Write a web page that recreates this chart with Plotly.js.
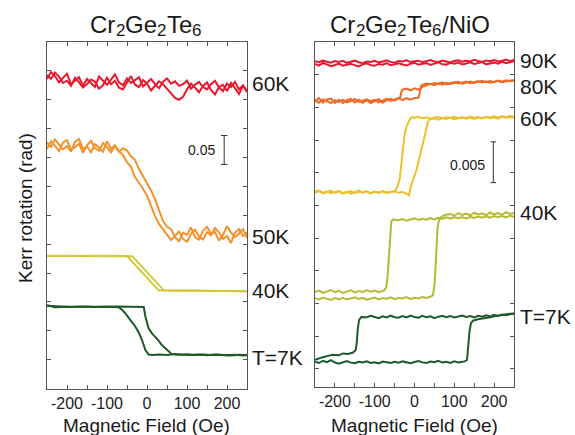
<!DOCTYPE html>
<html>
<head>
<meta charset="utf-8">
<script src="https://cdn.plot.ly/plotly-3.0.1.min.js"></script>
<style>html,body{margin:0;padding:0;background:#fff}#chart{width:575px;height:435px}</style>
</head>
<body>
<div id="chart"></div>
<script>
// ---------- shared field grid (Oe) ----------
const fieldGrid = [-250,-240,-230,-220,-210,-200,-190,-180,-170,-160,-150,-140,-130,-120,-110,-100,-90,-80,-70,-60,-50,-40,-30,-20,-10,0,10,20,30,40,50,60,70,80,90,100,110,120,130,140,150,160,170,180,190,200,210,220,230,240,250];
const fieldTickVals = [-200,-100,0,100,200];
const fieldTickText = ['-200','-100','0','100','200'];
const fieldMinorVals = [-250,-150,-50,50,150,250];

// ---------- Cr2Ge2Te6 (left), Kerr rotation in rad ----------
const l60Up = [0.543,0.536,0.547,0.540,0.529,0.533,0.524,0.538,0.530,0.521,0.527,0.535,0.531,0.519,0.525,0.538,0.527,0.533,0.521,0.518,0.530,0.541,0.526,0.522,0.534,0.528,0.516,0.524,0.532,0.527,0.519,0.512,0.503,0.500,0.505,0.518,0.528,0.521,0.513,0.524,0.530,0.517,0.509,0.522,0.526,0.515,0.529,0.520,0.510,0.524,0.516];
const l60Dn = [0.536,0.548,0.541,0.530,0.538,0.545,0.527,0.533,0.539,0.524,0.536,0.529,0.522,0.540,0.533,0.526,0.535,0.544,0.530,0.525,0.537,0.529,0.534,0.539,0.523,0.530,0.536,0.527,0.520,0.531,0.537,0.528,0.532,0.524,0.527,0.533,0.519,0.526,0.531,0.522,0.518,0.527,0.533,0.521,0.515,0.528,0.522,0.531,0.518,0.525,0.513];

const l50Up = [0.426,0.418,0.431,0.422,0.414,0.420,0.410,0.427,0.432,0.415,0.419,0.409,0.423,0.417,0.410,0.428,0.415,0.421,0.410,0.416,0.412,0.402,0.396,0.380,0.368,0.356,0.343,0.328,0.307,0.290,0.280,0.276,0.262,0.255,0.270,0.266,0.279,0.262,0.258,0.273,0.280,0.268,0.271,0.256,0.266,0.281,0.270,0.262,0.268,0.276,0.261];
const l50Dn = [0.415,0.428,0.420,0.411,0.426,0.430,0.414,0.418,0.424,0.408,0.421,0.429,0.416,0.412,0.425,0.418,0.409,0.420,0.411,0.404,0.392,0.384,0.366,0.357,0.346,0.334,0.316,0.299,0.285,0.276,0.268,0.257,0.264,0.272,0.259,0.254,0.268,0.275,0.263,0.258,0.271,0.265,0.278,0.270,0.259,0.264,0.252,0.270,0.276,0.264,0.270];

const l40UpX = [-250,-200,-150,-100,-60,-37,42,80,120,160,200,250];
const l40UpY = [0.2296,0.2300,0.2292,0.2298,0.2294,0.2292,0.1700,0.1696,0.1700,0.1694,0.1692,0.1686];
const l40DnX = [-250,-200,-150,-100,-50,29,60,100,150,200,250];
const l40DnY = [0.2300,0.2294,0.2298,0.2292,0.2294,0.1700,0.1692,0.1698,0.1690,0.1694,0.1686];

const l7UpX = [-250,-230,-200,-170,-140,-110,-80,-50,-20,-8,-4,4,12,21,30,37,46,54,62,80,100,120,140,160,180,200,220,240,250];
const l7UpY = [0.1440,0.1408,0.1417,0.1412,0.1420,0.1414,0.1419,0.1413,0.1418,0.1410,0.1243,0.1042,0.0960,0.0897,0.0820,0.0753,0.0690,0.0637,0.0595,0.0585,0.0592,0.0580,0.0588,0.0578,0.0586,0.0574,0.0583,0.0572,0.0580];
const l7DnX = [-250,-220,-190,-160,-130,-100,-71,-62,-54,-42,-29,-20,-12.5,-4,4,15,30,50,70,90,110,130,150,170,190,210,230,250];
const l7DnY = [0.1432,0.1418,0.1413,0.1420,0.1411,0.1416,0.1408,0.1360,0.1300,0.1190,0.1070,0.0960,0.0840,0.0667,0.0590,0.0582,0.0590,0.0580,0.0598,0.0584,0.0578,0.0590,0.0576,0.0587,0.0580,0.0571,0.0584,0.0575];

// ---------- Cr2Ge2Te6/NiO (right), Kerr rotation in rad ----------
const r90Up = [0.03955,0.03935,0.03968,0.03950,0.03928,0.03942,0.03960,0.03932,0.03945,0.03958,0.03938,0.03925,0.03950,0.03962,0.03940,0.03932,0.03955,0.03945,0.03965,0.03938,0.03950,0.03962,0.03948,0.03935,0.03958,0.03970,0.03945,0.03955,0.03965,0.03942,0.03960,0.03975,0.03952,0.03945,0.03968,0.03958,0.03972,0.03948,0.03960,0.03975,0.03955,0.03962,0.03978,0.03950,0.03965,0.03972,0.03958,0.03980,0.03965,0.03975,0.03988];
const r90Dn = [0.03988,0.03975,0.03995,0.03982,0.03970,0.03990,0.03978,0.03992,0.03968,0.03982,0.03995,0.03975,0.03965,0.03985,0.03978,0.03992,0.03972,0.03985,0.03998,0.03980,0.03970,0.03990,0.03985,0.04000,0.03978,0.03988,0.03995,0.03975,0.03990,0.04002,0.03985,0.03978,0.03995,0.03988,0.03972,0.03992,0.04000,0.03982,0.03995,0.03985,0.04005,0.03990,0.03978,0.03998,0.03988,0.04002,0.03985,0.03995,0.04008,0.03990,0.04005];

const r80UpX = [-250,-240,-230,-220,-210,-200,-190,-180,-170,-160,-150,-140,-130,-120,-110,-100,-90,-80,-70,-60,-50,-40,-30,-20,-10,0,10,13,17,22,30,40,50,60,70,80,90,100,110,120,130,140,150,160,170,180,190,200,210,220,230,240,250];
const r80UpY = [0.03500,0.03535,0.03480,0.03520,0.03530,0.03478,0.03515,0.03475,0.03510,0.03528,0.03482,0.03515,0.03478,0.03510,0.03475,0.03505,0.03525,0.03480,0.03510,0.03528,0.03505,0.03532,0.03510,0.03535,0.03518,0.03538,0.03540,0.03600,0.03690,0.03705,0.03715,0.03705,0.03722,0.03710,0.03728,0.03705,0.03720,0.03732,0.03715,0.03725,0.03738,0.03720,0.03730,0.03745,0.03728,0.03742,0.03725,0.03735,0.03748,0.03730,0.03742,0.03752,0.03745];
const r80DnX = [-250,-240,-230,-220,-210,-200,-190,-180,-170,-160,-150,-140,-130,-120,-110,-100,-90,-80,-70,-60,-50,-40,-36,-33,-30,-20,-10,0,10,20,30,40,50,60,70,80,90,100,110,120,130,140,150,160,170,180,190,200,210,220,230,240,250];
const r80DnY = [0.03510,0.03480,0.03520,0.03495,0.03475,0.03510,0.03490,0.03518,0.03485,0.03500,0.03525,0.03490,0.03505,0.03522,0.03498,0.03515,0.03485,0.03510,0.03528,0.03502,0.03520,0.03532,0.03545,0.03615,0.03640,0.03652,0.03632,0.03655,0.03640,0.03675,0.03698,0.03712,0.03695,0.03718,0.03702,0.03725,0.03710,0.03720,0.03735,0.03712,0.03728,0.03740,0.03722,0.03735,0.03748,0.03730,0.03745,0.03732,0.03750,0.03738,0.03755,0.03742,0.03758];

const r60UpX = [-250,-240,-230,-220,-210,-200,-190,-180,-170,-160,-150,-140,-130,-120,-110,-100,-90,-80,-70,-60,-50,-40,-30,-20,-14,-10,-4,5,13,21,30,34,38,50,60,70,80,90,100,110,120,130,140,150,160,170,180,190,200,210,220,230,240,250];
const r60UpY = [0.02390,0.02405,0.02375,0.02395,0.02370,0.02385,0.02400,0.02372,0.02390,0.02365,0.02388,0.02402,0.02378,0.02395,0.02370,0.02392,0.02380,0.02398,0.02372,0.02388,0.02395,0.02378,0.02385,0.02365,0.02345,0.02440,0.02533,0.02655,0.02818,0.02982,0.03145,0.03247,0.03276,0.03285,0.03272,0.03292,0.03280,0.03298,0.03278,0.03290,0.03302,0.03284,0.03295,0.03280,0.03298,0.03288,0.03305,0.03290,0.03300,0.03285,0.03310,0.03295,0.03305,0.03298];
const r60DnX = [-250,-240,-230,-220,-210,-200,-190,-180,-170,-160,-150,-140,-130,-120,-110,-100,-90,-80,-70,-60,-55,-47,-42,-37,-33,-29,-25,-20,-15,-10,-4,0,10,20,30,40,50,60,70,80,90,100,110,120,130,140,150,160,170,180,190,200,210,220,230,240,250];
const r60DnY = [0.02378,0.02395,0.02368,0.02388,0.02402,0.02375,0.02392,0.02365,0.02385,0.02398,0.02372,0.02390,0.02380,0.02396,0.02368,0.02388,0.02375,0.02395,0.02382,0.02392,0.02390,0.02410,0.02460,0.02550,0.02740,0.02950,0.03090,0.03190,0.03250,0.03290,0.03305,0.03295,0.03308,0.03290,0.03300,0.03285,0.03298,0.03305,0.03288,0.03300,0.03292,0.03306,0.03290,0.03302,0.03294,0.03310,0.03296,0.03304,0.03290,0.03308,0.03298,0.03312,0.03300,0.03315,0.03302,0.03318,0.03305];

const r40UpX = [-250,-240,-230,-220,-210,-200,-190,-180,-170,-160,-150,-140,-130,-120,-110,-100,-90,-80,-70,-60,-50,-40,-30,-20,-10,0,10,20,30,40,42.3,46.5,50.7,53.3,55.8,58.3,61.7,67.5,76,90,100,110,120,130,140,150,160,170,180,190,200,210,220,230,240,250];
const r40UpY = [0.01085,0.01070,0.01092,0.01078,0.01062,0.01085,0.01072,0.01090,0.01068,0.01082,0.01095,0.01075,0.01088,0.01065,0.01080,0.01092,0.01070,0.01085,0.01078,0.01095,0.01072,0.01088,0.01080,0.01098,0.01075,0.01090,0.01082,0.01100,0.01088,0.01105,0.01108,0.01125,0.01266,0.01511,0.01756,0.01960,0.02042,0.02083,0.02103,0.02115,0.02095,0.02128,0.02105,0.02120,0.02098,0.02132,0.02110,0.02125,0.02100,0.02135,0.02112,0.02128,0.02105,0.02138,0.02118,0.02130];
const r40DnX = [-250,-240,-230,-220,-210,-200,-190,-180,-170,-160,-150,-140,-130,-120,-110,-100,-90,-80,-76,-71,-67.6,-64.2,-60.9,-58.3,-54,-50,-40,-30,-20,-10,0,10,20,30,40,50,60,70,80,90,100,110,120,130,140,150,160,170,180,190,200,210,220,230,240,250];
const r40DnY = [0.01160,0.01178,0.01150,0.01172,0.01185,0.01158,0.01175,0.01148,0.01168,0.01182,0.01155,0.01172,0.01160,0.01185,0.01165,0.01178,0.01158,0.01175,0.01180,0.01218,0.01349,0.01593,0.01840,0.02023,0.02051,0.02045,0.02040,0.02055,0.02035,0.02050,0.02062,0.02042,0.02058,0.02045,0.02065,0.02050,0.02070,0.02055,0.02075,0.02060,0.02080,0.02065,0.02078,0.02060,0.02082,0.02068,0.02085,0.02070,0.02088,0.02072,0.02090,0.02078,0.02092,0.02075,0.02095,0.02082];

const r7UpX = [-250,-240,-230,-220,-210,-200,-190,-180,-170,-160,-150,-140,-130,-120,-110,-100,-90,-80,-70,-60,-50,-40,-30,-20,-10,0,10,20,30,40,50,60,70,80,90,100,110,120,126,131.9,135.2,138.6,141.9,146.9,159.5,170,180,190,200,210,220,230,240,250];
const r7UpY = [0.00305,0.00290,0.00318,0.00300,0.00325,0.00296,0.00282,0.00300,0.00315,0.00295,0.00288,0.00305,0.00296,0.00312,0.00292,0.00300,0.00285,0.00308,0.00298,0.00290,0.00306,0.00295,0.00310,0.00300,0.00288,0.00302,0.00315,0.00298,0.00292,0.00308,0.00300,0.00318,0.00296,0.00305,0.00290,0.00310,0.00298,0.00305,0.00310,0.00327,0.00532,0.00695,0.00777,0.00809,0.00826,0.00832,0.00842,0.00850,0.00862,0.00872,0.00880,0.00888,0.00895,0.00890];
const r7DnX = [-250,-242.5,-230,-220,-205,-190,-180,-167,-154.5,-147.8,-145.3,-142.8,-139.4,-133.6,-120,-110,-100,-90,-80,-70,-60,-50,-40,-30,-20,-10,0,10,20,30,40,50,60,70,80,90,100,110,120,130,140,150,160,170,180,190,200,210,220,230,240,250];
const r7DnY = [0.00330,0.00345,0.00362,0.00375,0.00390,0.00385,0.00408,0.00402,0.00418,0.00450,0.00532,0.00695,0.00817,0.00855,0.00850,0.00868,0.00855,0.00840,0.00862,0.00848,0.00870,0.00852,0.00845,0.00866,0.00850,0.00872,0.00855,0.00845,0.00868,0.00850,0.00862,0.00840,0.00858,0.00870,0.00852,0.00865,0.00848,0.00860,0.00872,0.00855,0.00866,0.00850,0.00870,0.00858,0.00875,0.00862,0.00880,0.00868,0.00885,0.00875,0.00890,0.00900];

// ---------- labels ----------
const leftTitleParts = [['Cr',0],['2',1],['Ge',0],['2',1],['Te',0],['6',1]];
const rightTitleParts = [['Cr',0],['2',1],['Ge',0],['2',1],['Te',0],['6',1],['/NiO',0]];
const leftLabels = [{t:'60K', y:0.528}, {t:'50K', y:0.263}, {t:'40K', y:0.170}, {t:'T=7K', y:0.0545}];
const rightLabels = [{t:'90K', y:0.0400}, {t:'80K', y:0.0368}, {t:'60K', y:0.0329}, {t:'40K', y:0.0214}, {t:'T=7K', y:0.0086}];

const C = {red:'#e8182e', orange50:'#f2922c', yellow40:'#d3c83a', green:'#1f5a2b', orange80:'#ef6b25', yellow60:'#eac12f', lime40:'#b2bc34'};

function tr(x, y, color, xa, ya) {
  return {x:x, y:y, type:'scatter', mode:'lines', xaxis:xa, yaxis:ya,
          line:{color:color, width:2}, hoverinfo:'skip'};
}

const data = [
  tr(fieldGrid, l60Up, C.red, 'x', 'y'),
  tr(fieldGrid, l60Dn, C.red, 'x', 'y'),
  tr(fieldGrid, l50Up, C.orange50, 'x', 'y'),
  tr(fieldGrid, l50Dn, C.orange50, 'x', 'y'),
  tr(l40UpX, l40UpY, C.yellow40, 'x', 'y'),
  tr(l40DnX, l40DnY, C.yellow40, 'x', 'y'),
  tr(l7UpX, l7UpY, C.green, 'x', 'y'),
  tr(l7DnX, l7DnY, C.green, 'x', 'y'),
  tr(fieldGrid, r90Up, C.red, 'x2', 'y2'),
  tr(fieldGrid, r90Dn, C.red, 'x2', 'y2'),
  tr(r80UpX, r80UpY, C.orange80, 'x2', 'y2'),
  tr(r80DnX, r80DnY, C.orange80, 'x2', 'y2'),
  tr(r60UpX, r60UpY, C.yellow60, 'x2', 'y2'),
  tr(r60DnX, r60DnY, C.yellow60, 'x2', 'y2'),
  tr(r40UpX, r40UpY, C.lime40, 'x2', 'y2'),
  tr(r40DnX, r40DnY, C.lime40, 'x2', 'y2'),
  tr(r7UpX, r7UpY, C.green, 'x2', 'y2'),
  tr(r7DnX, r7DnY, C.green, 'x2', 'y2')
];

const axisLine = '#555';
function xAxis(domain, anchor) {
  return {domain:domain, anchor:anchor, range:[-250,250], tickmode:'array',
    tickvals:fieldTickVals, ticktext:fieldTickText, ticks:'inside', ticklen:4, tickcolor:axisLine,
    minor:{tickmode:'array', tickvals:fieldMinorVals, ticks:'inside', ticklen:4, tickcolor:axisLine},
    showline:true, linecolor:axisLine, linewidth:1, mirror:'ticks', showgrid:false, zeroline:false,
    tickfont:{size:16, color:'#222'}, fixedrange:true};
}
function yAxis(domain, anchor, range, tick0, dtick) {
  return {domain:domain, anchor:anchor, range:range, tick0:tick0, dtick:dtick, ticks:'inside', ticklen:4,
    tickcolor:axisLine, showticklabels:false, showline:true, linecolor:axisLine, linewidth:1,
    mirror:'ticks', showgrid:false, zeroline:false, fixedrange:true};
}

const W = 575, H = 435;
const px = v => v / W, py = v => 1 - v / H;
const FAMILY = 'Liberation Sans, Arial, sans-serif';
const textFont = {family:FAMILY, color:'#1a1a1a'};

const annotations = [
  {text:'Kerr rotation (rad)', x:px(25), y:py(208), xref:'paper', yref:'paper', xanchor:'center', yanchor:'middle', textangle:-90, showarrow:false, font:Object.assign({size:19}, textFont)},
  {text:'Magnetic Field (Oe)', x:px(146), y:py(425), xref:'paper', yref:'paper', xanchor:'center', yanchor:'middle', showarrow:false, font:Object.assign({size:19}, textFont)},
  {text:'Magnetic Field (Oe)', x:px(414), y:py(425), xref:'paper', yref:'paper', xanchor:'center', yanchor:'middle', showarrow:false, font:Object.assign({size:19}, textFont)},
  {text:'0.05', x:176, y:0.413, xref:'x', yref:'y', xanchor:'right', yanchor:'middle', showarrow:false, font:Object.assign({size:14}, textFont)},
  {text:'0.005', x:181, y:0.0272, xref:'x2', yref:'y2', xanchor:'right', yanchor:'middle', showarrow:false, font:Object.assign({size:14}, textFont)}
];
leftLabels.forEach(l => annotations.push({text:l.t, x:px(250), y:l.y, xref:'paper', yref:'y', xanchor:'left', yanchor:'middle', showarrow:false, font:Object.assign({size:21}, textFont)}));
rightLabels.forEach(l => annotations.push({text:l.t, x:px(518), y:l.y, xref:'paper', yref:'y2', xanchor:'left', yanchor:'middle', showarrow:false, font:Object.assign({size:21}, textFont)}));

// panel titles: chemical formulas with lowered, smaller digits
const MAIN = 24, SUB = 17;
const ctx = document.createElement('canvas').getContext('2d');
function textWidth(t, size) { ctx.font = size + 'px "Liberation Sans", Arial, sans-serif'; return ctx.measureText(t).width; }
function addTitle(parts, centerX, mainY, subY) {
  const widths = parts.map(p => textWidth(p[0], p[1] ? SUB : MAIN));
  let x = centerX - widths.reduce((a, b) => a + b, 0) / 2;
  parts.forEach((p, i) => {
    annotations.push({text:p[0], x:px(x), y:py(p[1] ? subY : mainY), xref:'paper', yref:'paper',
      xanchor:'left', yanchor:'middle', borderpad:0, borderwidth:0, showarrow:false,
      font:Object.assign({size:p[1] ? SUB : MAIN}, textFont)});
    x += widths[i];
  });
}
addTitle(leftTitleParts, 146, 24, 31);
addTitle(rightTitleParts, 410, 24, 31);

const barL = {x:193, y0:0.388, len:0.05, cap:8};
const barR = {x:198, y0:0.0250, len:0.005, cap:7};
const barLine = {color:'#333', width:1};
function scaleBar(b, xr, yr) {
  return [
    {type:'line', xref:xr, yref:yr, x0:b.x, x1:b.x, y0:b.y0, y1:b.y0 + b.len, line:barLine},
    {type:'line', xref:xr, yref:yr, x0:b.x - b.cap, x1:b.x + b.cap, y0:b.y0, y1:b.y0, line:barLine},
    {type:'line', xref:xr, yref:yr, x0:b.x - b.cap, x1:b.x + b.cap, y0:b.y0 + b.len, y1:b.y0 + b.len, line:barLine}
  ];
}

const layout = {
  width:W, height:H, margin:{l:0, r:0, t:0, b:0}, autosize:false,
  paper_bgcolor:'#fff', plot_bgcolor:'#fff', showlegend:false,
  font:{family:FAMILY, color:'#222'},
  xaxis: xAxis([47/W, 247/W], 'y'),
  yaxis: yAxis([1 - 388.5/H, 1 - 42/H], 'x', [0, 0.6], 0, 0.05),
  xaxis2: xAxis([315/W, 514/W], 'y2'),
  yaxis2: yAxis([1 - 386.7/H, 1 - 42.3/H], 'x2', [0, 0.0422], 0.0022, 0.004),
  annotations: annotations,
  shapes: scaleBar(barL, 'x', 'y').concat(scaleBar(barR, 'x2', 'y2'))
};

Plotly.newPlot('chart', data, layout, {staticPlot:true, displayModeBar:false});
</script>
</body>
</html>
